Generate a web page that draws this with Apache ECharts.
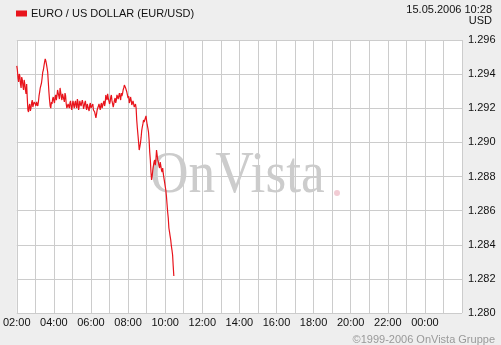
<!DOCTYPE html>
<html>
<head>
<meta charset="utf-8">
<script src="https://cdn.jsdelivr.net/npm/echarts@6/dist/echarts.min.js"></script>
<style>
html,body{margin:0;padding:0;background:#eeeeee;}
#c{width:501px;height:345px;}
</style>
</head>
<body>
<div id="c"></div>
<script>
var seriesName = 'EURO / US DOLLAR (EUR/USD)';
var times = [
'02:00','02:02','02:04','02:06','02:08','02:10','02:12','02:14','02:16','02:18','02:20','02:22','02:24','02:26','02:28','02:30','02:32','02:34','02:36','02:38','02:40','02:42','02:44','02:46','02:48','02:50','02:52','02:54','02:56','02:58',
'03:00','03:02','03:04','03:06','03:08','03:10','03:12','03:14','03:16','03:18','03:20','03:22','03:24','03:26','03:28','03:30','03:32','03:34','03:36','03:38','03:40','03:42','03:44','03:46','03:48','03:50','03:52','03:54','03:56','03:58',
'04:00','04:02','04:04','04:06','04:08','04:10','04:12','04:14','04:16','04:18','04:20','04:22','04:24','04:26','04:28','04:30','04:32','04:34','04:36','04:38','04:40','04:42','04:44','04:46','04:48','04:50','04:52','04:54','04:56','04:58',
'05:00','05:02','05:04','05:06','05:08','05:10','05:12','05:14','05:16','05:18','05:20','05:22','05:24','05:26','05:28','05:30','05:32','05:34','05:36','05:38','05:40','05:42','05:44','05:46','05:48','05:50','05:52','05:54','05:56','05:58',
'06:00','06:02','06:04','06:06','06:08','06:10','06:12','06:14','06:16','06:18','06:20','06:22','06:24','06:26','06:28','06:30','06:32','06:34','06:36','06:38','06:40','06:42','06:44','06:46','06:48','06:50','06:52','06:54','06:56','06:58',
'07:00','07:02','07:04','07:06','07:08','07:10','07:12','07:14','07:16','07:18','07:20','07:22','07:24','07:26','07:28','07:30','07:32','07:34','07:36','07:38','07:40','07:42','07:44','07:46','07:48','07:50','07:52','07:54','07:56','07:58',
'08:00','08:02','08:04','08:06','08:08','08:10','08:12','08:14','08:16','08:18','08:20','08:22','08:24','08:26','08:28','08:30','08:32','08:34','08:36','08:38','08:40','08:42','08:44','08:46','08:48','08:50','08:52','08:54','08:56','08:58',
'09:00','09:02','09:04','09:06','09:08','09:10','09:12','09:14','09:16','09:18','09:20','09:22','09:24','09:26','09:28','09:30','09:32','09:34','09:36','09:38','09:40','09:42','09:44','09:46','09:48','09:50','09:52','09:54','09:56','09:58',
'10:00','10:02','10:04','10:06','10:08','10:10','10:12','10:14','10:16','10:18','10:20','10:22','10:24','10:26','10:28'
];
var prices = [
1.29448,1.29424,1.29377,1.29354,1.29401,1.29389,1.29342,1.29319,1.29383,1.29366,1.2933,1.29307,1.29366,1.29342,1.29307,1.29284,1.29342,1.2926,1.2919,1.29178,1.29213,1.29225,1.29184,1.29201,1.29231,1.29248,1.29207,1.29213,1.29237,1.29248,
1.29225,1.29213,1.29237,1.29225,1.29213,1.29237,1.29272,1.29295,1.29319,1.2933,1.29348,1.29377,1.29412,1.29424,1.29448,1.29471,1.29489,1.29477,1.29459,1.29436,1.29412,1.29354,1.29295,1.29248,1.29213,1.29201,1.29237,1.29225,1.29254,1.29266,
1.29243,1.29231,1.29266,1.29278,1.29248,1.29272,1.29307,1.29289,1.29272,1.29254,1.29319,1.29295,1.29266,1.29248,1.29284,1.29295,1.29254,1.29237,1.29289,1.29272,1.29225,1.29201,1.2919,1.29225,1.29213,1.29201,1.29231,1.29243,1.29207,1.2919,
1.29225,1.29243,1.29219,1.29201,1.29231,1.29243,1.29213,1.29201,1.29254,1.29237,1.2919,1.29213,1.29243,1.29225,1.29213,1.29231,1.29248,1.29231,1.29196,1.29213,1.29231,1.29243,1.29207,1.2919,1.29225,1.29231,1.29196,1.29184,1.29219,1.29231,
1.29201,1.2919,1.29207,1.29225,1.2919,1.29201,1.29178,1.29172,1.29143,1.29166,1.2919,1.29201,1.29213,1.29225,1.29207,1.2919,1.29219,1.29231,1.29201,1.2919,1.29231,1.29243,1.29213,1.29231,1.29278,1.2926,1.29248,1.29284,1.2926,1.29243,
1.29225,1.29237,1.29266,1.29278,1.29243,1.29225,1.29207,1.29225,1.29248,1.2926,1.29231,1.29248,1.29278,1.29266,1.29254,1.29272,1.29289,1.29266,1.29248,1.29289,1.29272,1.29284,1.29307,1.29319,1.29336,1.29342,1.29319,1.29307,1.29295,1.29284,
1.2926,1.29272,1.29231,1.29243,1.29266,1.29248,1.29219,1.29231,1.29243,1.29248,1.29207,1.29196,1.29225,1.29201,1.29131,1.29084,1.29043,1.29002,1.28955,1.28973,1.28996,1.29026,1.29067,1.2909,1.29108,1.29131,1.29119,1.29108,1.29143,1.29155,
1.29125,1.29102,1.29084,1.29061,1.29014,1.28944,1.28897,1.28826,1.2878,1.28803,1.28838,1.28862,1.28885,1.28897,1.28867,1.28897,1.28955,1.28944,1.28897,1.28885,1.28862,1.2885,1.28885,1.28862,1.28838,1.28826,1.2885,1.28815,1.28791,1.28768,
1.28744,1.28721,1.28686,1.28639,1.28592,1.28557,1.28498,1.28475,1.28451,1.28428,1.28393,1.28369,1.2834,1.28275,1.28217
];
var xTickLabels = ['02:00','04:00','06:00','08:00','10:00','12:00','14:00','16:00','18:00','20:00','22:00','00:00'];
var yTickLabels = ['1.280','1.282','1.284','1.286','1.288','1.290','1.292','1.294','1.296'];
var dateLabel = '15.05.2006 10:28';
var unitLabel = 'USD';
var copyright = '\u00a91999-2006 OnVista Gruppe';
var watermark = 'OnVista';

function toMin(s){var p=s.split(':');return (+p[0])*60+(+p[1]);}
var data = times.map(function(t,i){return [toMin(t), prices[i]];});

var font = 'Liberation Sans, Arial, sans-serif';
var chart = echarts.init(document.getElementById('c'), null, {renderer:'canvas'});
chart.setOption({
  backgroundColor:'#eeeeee',
  animation:false,
  grid:{left:15,right:39,top:40,bottom:32,show:true,backgroundColor:'#ffffff',borderWidth:0},
  legend:{
    left:11,top:3,itemWidth:11,itemHeight:6,itemGap:4,icon:'rect',
    data:[seriesName],
    textStyle:{fontFamily:font,fontSize:11,color:'#111',padding:[0,0,0,-1]}
  },
  graphic:[
    {type:'text',right:9,top:4,style:{text:dateLabel,font:'11px '+font,fill:'#111'}},
    {type:'text',right:9,top:15,style:{text:unitLabel,font:'11px '+font,fill:'#111'}},
    {type:'text',right:6,top:334,style:{text:copyright,font:'11px '+font,fill:'#999'}},
    {type:'text',left:150,top:146,z:1,scaleX:0.89,style:{text:watermark,font:'60px Liberation Serif, Times New Roman, serif',fill:'#cccccc'}},
    {type:'circle',shape:{cx:337,cy:193,r:3},z:1,style:{fill:'#f2ccd4'}}
  ],
  xAxis:{
    type:'value',min:120,max:1560,interval:60,
    axisLine:{show:false},axisTick:{show:false},
    splitLine:{show:true,lineStyle:{color:'#cccccc',width:1}},
    axisLabel:{
      showMaxLabel:false,margin:4,
      fontFamily:font,fontSize:11,color:'#111',
      formatter:function(v){var h=Math.round(v/60);if(h%2!==0)return '';var idx=(h-2)/2;return xTickLabels[idx]||'';}
    }
  },
  yAxis:{
    type:'value',position:'right',min:1.280,max:1.296,interval:0.002,
    axisLine:{show:false},axisTick:{show:false},
    splitLine:{show:true,lineStyle:{color:'#cccccc',width:1}},
    axisLabel:{
      margin:6,fontFamily:font,fontSize:11,color:'#111',
      formatter:function(v){var idx=Math.round((v-1.280)/0.002);return yTickLabels[idx];}
    }
  },
  series:[{
    name:seriesName,type:'line',data:data,showSymbol:false,z:3,
    lineStyle:{color:'#e8141c',width:1.2},itemStyle:{color:'#e8141c'}
  }]
});
</script>
</body>
</html>
